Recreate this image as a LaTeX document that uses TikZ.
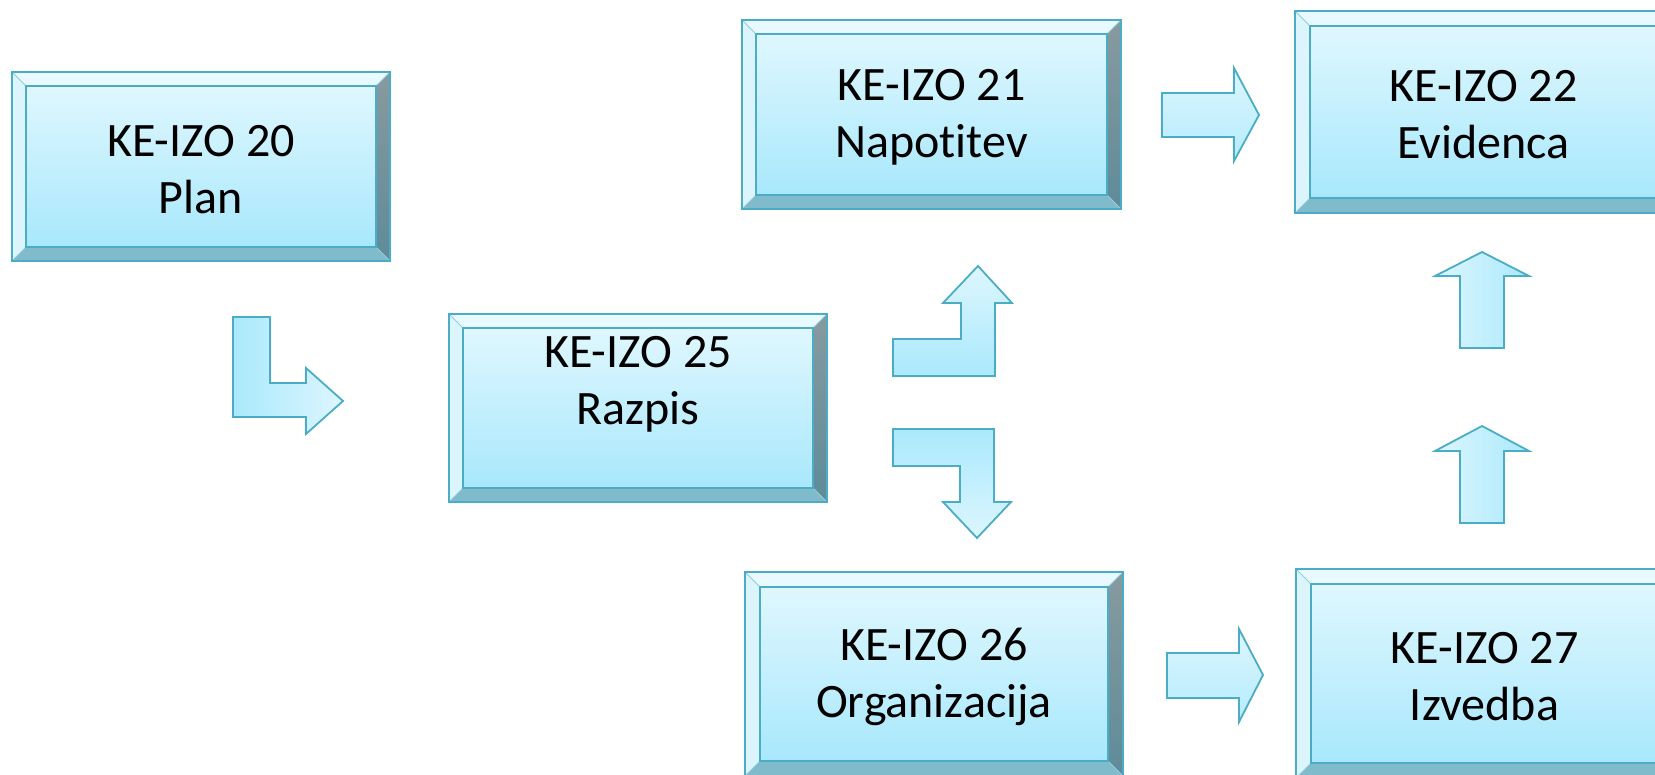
\documentclass[tikz,border=0pt]{standalone}
\usepackage{fontspec}
\setmainfont{Carlito}[Ligatures={NoCommon}]
\definecolor{bord}{HTML}{4BACC6}
\definecolor{facetop}{HTML}{DFF7FE}
\definecolor{facebot}{HTML}{A8E8FC}
\definecolor{bevtop}{HTML}{E8F9FF}
\definecolor{bevleft}{HTML}{DCF5FD}
\definecolor{bevrtop}{HTML}{889A9F}
\definecolor{bevrbot}{HTML}{5E8B9A}
\definecolor{bevbot}{HTML}{80BBCC}
\definecolor{arrlight}{HTML}{DDF6FE}
\definecolor{arrdark}{HTML}{AAE9FC}
\tikzset{
  boxtext/.style={align=center, font=\fontsize{48}{57}\selectfont, inner sep=0pt},
  blockarrow/.style={draw=bord, line width=1.8pt, line join=miter},
  outline/.style={draw=bord, line width=2.2pt},
  inline/.style={draw=bord, line width=1.4pt},
  diag/.style={draw=bord!60, line width=0.8pt},
}
% #1 name, #2 x1, #3 y1, #4 x2, #5 y2, #6 bevel, #7 text dy, #8 text
\newcommand\BevBox[8]{%
  \fill[bevtop] (#2,#3) -- (#4,#3) -- (#4-#6,#3+#6) -- (#2+#6,#3+#6) -- cycle;
  \fill[bevleft] (#2,#3) -- (#2+#6,#3+#6) -- (#2+#6,#5-#6) -- (#2,#5) -- cycle;
  \shade[top color=bevrtop, bottom color=bevrbot] (#4,#3) -- (#4,#5) -- (#4-#6,#5-#6) -- (#4-#6,#3+#6) -- cycle;
  \fill[bevbot] (#2,#5) -- (#2+#6,#5-#6) -- (#4-#6,#5-#6) -- (#4,#5) -- cycle;
  \shade[top color=facetop, bottom color=facebot] (#2+#6,#3+#6) rectangle (#4-#6,#5-#6);
  \draw[diag] (#2,#3) -- (#2+#6,#3+#6) (#4,#3) -- (#4-#6,#3+#6) (#2,#5) -- (#2+#6,#5-#6) (#4,#5) -- (#4-#6,#5-#6);
  \draw[inline] (#2+#6,#3+#6) rectangle (#4-#6,#5-#6);
  \draw[outline] (#2,#3) rectangle (#4,#5);
  \node[boxtext] (#1) at ({(#2+#4)/2},{(#3+#5)/2+#7}) {#8};
}
\begin{document}
\begin{tikzpicture}[x=1pt,y=-1pt]
\useasboundingbox (0,0) rectangle (1655,775);
\clip (0,0) rectangle (1655,775);

\BevBox{plan}{12}{72}{390}{261}{14}{3}{KE-IZO 20\\Plan}
\BevBox{napot}{742}{20}{1121}{209}{14}{3}{KE-IZO 21\\Napot\kern0pt i\kern0pt tev}
\BevBox{evid}{1295}{11}{1672}{213}{15}{3}{KE-IZO 22\\Evidenca}
\BevBox{razpis}{449}{314}{827}{502}{14}{-24}{KE-IZO 25\\Razpis}
\BevBox{org}{745}{572}{1123}{776}{15}{3}{KE-IZO 26\\Organizacija}
\BevBox{izv}{1296}{569}{1673}{778}{15}{3}{KE-IZO 27\\Izvedba}

% bent arrow plan -> razpis
\shade[blockarrow, left color=arrdark, right color=arrlight]
  (233,317) -- (270,317) -- (270,383) -- (306,383) -- (306,368) -- (343,401)
  -- (306,434) -- (306,417) -- (233,417) -- cycle;
% up-bent arrow razpis -> napotitev
\shade[blockarrow, top color=arrlight, bottom color=arrdark]
  (893,339) -- (961,339) -- (961,303) -- (943,303) -- (978,266) -- (1012,303)
  -- (995,303) -- (995,376) -- (893,376) -- cycle;
% down-bent arrow razpis -> organizacija
\shade[blockarrow, top color=arrdark, bottom color=arrlight]
  (893,429) -- (994,429) -- (994,502) -- (1011,502) -- (977,538) -- (943,502)
  -- (960,502) -- (960,466) -- (893,466) -- cycle;
% right arrow napotitev -> evidenca
\shade[blockarrow, top color=arrlight, bottom color=arrdark!80!arrlight]
  (1162,93) -- (1234,93) -- (1234,68) -- (1259,115) -- (1234,161) -- (1234,137)
  -- (1162,137) -- cycle;
% right arrow organizacija -> izvedba
\shade[blockarrow, top color=arrlight, bottom color=arrdark!80!arrlight]
  (1167,653) -- (1239,653) -- (1239,629) -- (1263,675) -- (1239,722) -- (1239,698)
  -- (1167,698) -- cycle;
% up arrows izvedba -> evidenca
\shade[blockarrow, left color=arrlight, right color=arrdark]
  (1460,348) -- (1460,276) -- (1435,276) -- (1482,252) -- (1529,276) -- (1504,276)
  -- (1504,348) -- cycle;
\shade[blockarrow, left color=arrlight, right color=arrdark]
  (1460,523) -- (1460,451) -- (1435,451) -- (1482,426) -- (1529,451) -- (1504,451)
  -- (1504,523) -- cycle;
\end{tikzpicture}
\end{document}
